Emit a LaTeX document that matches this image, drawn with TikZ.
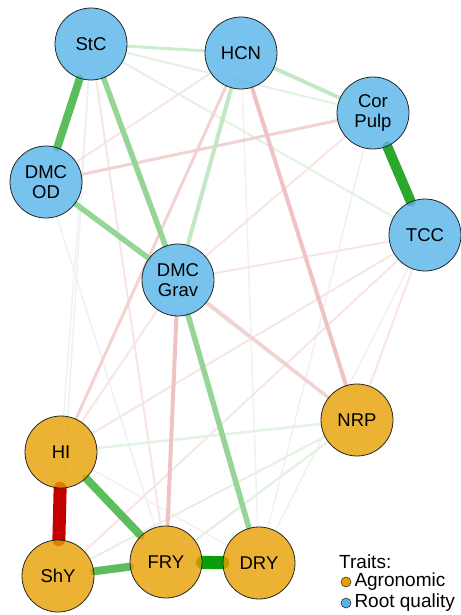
\documentclass[tikz,border=0pt]{standalone}
\usepackage{fontspec}
\setmainfont{Liberation Sans}
\usetikzlibrary{backgrounds,positioning}

\definecolor{agrocol}{HTML}{E69F00}
\definecolor{rootcol}{HTML}{56B4E9}
\definecolor{gvhigh}{HTML}{0A9E0A}
\definecolor{ghigh}{HTML}{2BA82B}
\definecolor{gmidhigh}{HTML}{5CBD5C}
\definecolor{gmid}{HTML}{97D597}
\definecolor{glow}{HTML}{C4E7C4}
\definecolor{gfaint}{HTML}{E2F3E2}
\definecolor{rvhigh}{HTML}{C40000}
\definecolor{rmid}{HTML}{EFC3C3}
\definecolor{rlow}{HTML}{F3D2D2}
\definecolor{rfaint}{HTML}{F8E5E5}
\definecolor{nilfaint}{HTML}{F1F1F5}

\tikzset{
  trait/.style={circle, draw=black!85, line width=0.8pt, minimum size=72pt,
    inner sep=0pt, align=center, fill opacity=0.8, text opacity=1,
    font=\fontsize{18.5}{20}\selectfont},
  agro/.style={trait, fill=agrocol},
  root/.style={trait, fill=rootcol},
  cor/.style={line cap=round},
  legdot/.style={circle, draw=black!80, line width=0.6pt, minimum size=10pt, inner sep=0pt},
  legtext/.style={font=\fontsize{19}{20}\selectfont, inner sep=0pt},
}

\begin{document}
\begin{tikzpicture}[x=1pt,y=-1pt]
\useasboundingbox (0,0) rectangle (460,615);

%% root quality traits
\node[root] (StC) at (91,44) {StC};
\node[root] (HCN) at (241,53) {HCN};
\node[root] (CorPulp) at (373,113) {Cor\\Pulp};
\node[root] (TCC) at (425,235) {TCC};
\node[root] (DMCOD) at (46,182) {DMC\\OD};
\node[root] (DMCGrav) at (178,280) {DMC\\Grav};

%% agronomic traits
\node[agro] (NRP) at (357,420) {NRP};
\node[agro] (HI) at (61,452) {HI};
\node[agro] (ShY) at (58,576) {ShY};
\node[agro] (FRY) at (166,562) {FRY};
\node[agro] (DRY) at (259,563) {DRY};

%% correlations (under the nodes)
\begin{scope}[on background layer]
% very weak
\draw[cor, nilfaint, line width=1.5pt] (StC) -- (HI);
\draw[cor, nilfaint, line width=1.5pt] (StC) -- (ShY);
\draw[cor, nilfaint, line width=1.5pt] (HCN) -- (DRY);
\draw[cor, nilfaint, line width=1.5pt] (CorPulp) -- (DRY);
\draw[cor, nilfaint, line width=1.5pt] (TCC) -- (DRY);
\draw[cor, nilfaint, line width=1.5pt] (DMCOD) -- (FRY);
\draw[cor, nilfaint, line width=1.5pt] (HI) -- (DRY);
% weak negative
\draw[cor, rfaint, line width=2pt] (StC) -- (FRY);
\draw[cor, rfaint, line width=2pt] (HCN) -- (DMCOD);
\draw[cor, rfaint, line width=2pt] (CorPulp) -- (DMCGrav);
\draw[cor, rfaint, line width=2pt] (TCC) -- (DMCGrav);
\draw[cor, rfaint, line width=2pt] (TCC) -- (HI);
\draw[cor, rfaint, line width=2pt] (TCC) -- (ShY);
\draw[cor, rfaint, line width=2pt] (TCC) -- (NRP);
\draw[cor, rfaint, line width=2pt] (DMCGrav) -- (HI);
% weak positive
\draw[cor, gfaint, line width=2pt] (StC) -- (CorPulp);
\draw[cor, gfaint, line width=2pt] (StC) -- (TCC);
\draw[cor, gfaint, line width=2pt] (DMCOD) -- (NRP);
\draw[cor, gfaint, line width=2.5pt] (HI) -- (NRP);
\draw[cor, gfaint, line width=2.5pt] (FRY) -- (NRP);
\draw[cor, gfaint, line width=2pt] (ShY) -- (NRP);
% moderate negative
\draw[cor, rlow, line width=3pt] (HCN) -- (HI);
\draw[cor, rlow, line width=3pt] (CorPulp) -- (DMCOD);
\draw[cor, rlow, line width=3.5pt] (DMCGrav) -- (NRP);
\draw[cor, rmid, line width=4pt] (HCN) -- (NRP);
\draw[cor, rmid, line width=4pt] (DMCGrav) -- (FRY);
% moderate positive
\draw[cor, glow!70!gfaint, line width=3pt] (StC) -- (HCN);
\draw[cor, glow, line width=4pt] (HCN) -- (CorPulp);
\draw[cor, glow, line width=4pt] (HCN) -- (DMCGrav);
\draw[cor, gmid, line width=5.5pt] (StC) -- (DMCGrav);
\draw[cor, gmid, line width=5.5pt] (DMCOD) -- (DMCGrav);
\draw[cor, gmid, line width=5.5pt] (DMCGrav) -- (DRY);
% strong
\draw[cor, gmidhigh, line width=8pt] (StC) -- (DMCOD);
\draw[cor, gmidhigh, line width=8pt] (HI) -- (FRY);
\draw[cor, gmidhigh, line width=8pt] (ShY) -- (FRY);
\draw[cor, ghigh, line width=10pt] (CorPulp) -- (TCC);
\draw[cor, gvhigh, line width=13pt] (FRY) -- (DRY);
\draw[cor, rvhigh, line width=13pt] (HI) -- (ShY);
\end{scope}

%% legend
\node[legtext, anchor=base west] (legtitle) at (339,568) {Traits:};
\node[legdot, fill=agrocol] (dotagro) at (346,582) {};
\node[legdot, fill=rootcol] (dotroot) at (346,603) {};
\node[legtext, right=3pt of dotagro] (legagro) {Agronomic};
\node[legtext, right=3pt of dotroot] (legroot) {Root quality};

\end{tikzpicture}
\end{document}
